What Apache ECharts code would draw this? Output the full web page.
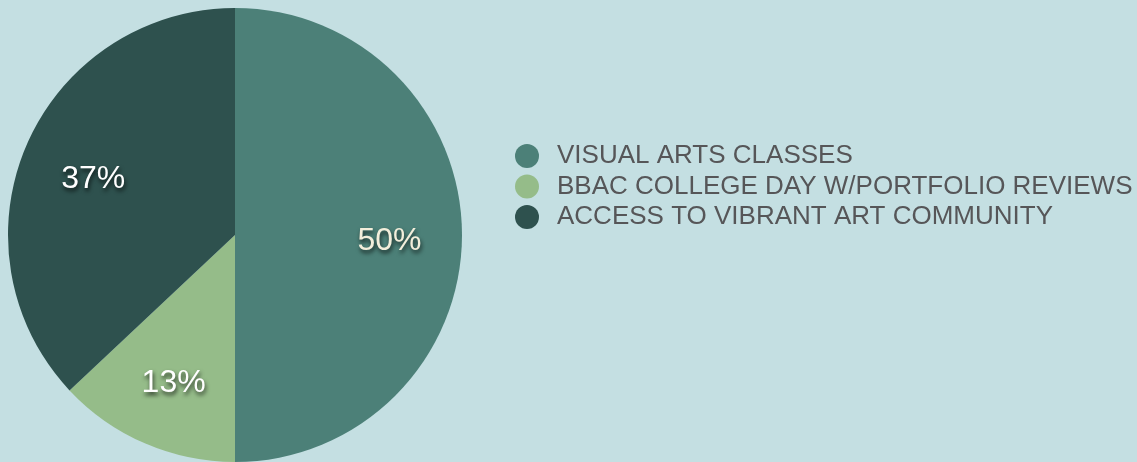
<!DOCTYPE html>
<html>
<head>
<meta charset="utf-8">
<script src="https://cdn.jsdelivr.net/npm/echarts@6/dist/echarts.min.js"></script>
<style>
  html, body { margin: 0; padding: 0; background: #c4dfe2; }
  #chart { width: 1137px; height: 462px; }
</style>
</head>
<body>
<div id="chart"></div>
<script>
// Share of benefits
const categories = [
  'VISUAL ARTS CLASSES',
  'BBAC COLLEGE DAY W/PORTFOLIO REVIEWS',
  'ACCESS TO VIBRANT ART COMMUNITY'
];
const values = [50, 13, 37];
const sliceColors = ['#4c8078', '#95bc89', '#2e514e'];
const labelColors = ['#f2eedb', '#ffffff', '#ffffff'];

const pieData = categories.map((name, i) => ({
  name,
  value: values[i],
  itemStyle: { color: sliceColors[i] }
}));

const labelData = categories.map((name, i) => ({
  name,
  value: values[i],
  label: { color: labelColors[i] }
}));

const chart = echarts.init(document.getElementById('chart'), null, { renderer: 'canvas' });
chart.setOption({
  backgroundColor: '#c4dfe2',
  animation: false,
  legend: {
    orient: 'vertical',
    left: 510,
    top: 138,
    icon: 'circle',
    itemWidth: 24,
    itemHeight: 24,
    itemGap: 4.5,
    data: categories,
    textStyle: {
      color: '#565658',
      fontSize: 26,
      fontFamily: 'Liberation Sans, Arial, sans-serif',
      padding: [0, 0, 0, 13]
    }
  },
  series: [
    {
      type: 'pie',
      center: [235, 235],
      radius: [0, 227],
      startAngle: 90,
      clockwise: true,
      label: { show: false },
      labelLine: { show: false },
      emphasis: { disabled: true },
      data: pieData
    },
    {
      // transparent ring that carries the percentage labels further out
      type: 'pie',
      center: [235, 235],
      radius: [76, 227],
      startAngle: 90,
      clockwise: true,
      silent: true,
      legendHoverLink: false,
      itemStyle: { color: 'rgba(0,0,0,0)' },
      emphasis: { disabled: true },
      labelLine: { show: false },
      labelLayout: { dy: 6 },
      label: {
        show: true,
        position: 'inside',
        formatter: '{c}%',
        fontSize: 32,
        fontFamily: 'Liberation Sans, Arial, sans-serif',
        textShadowColor: 'rgba(0,0,0,0.75)',
        textShadowBlur: 4,
        textShadowOffsetX: 1,
        textShadowOffsetY: 3
      },
      data: labelData
    }
  ]
});
</script>
</body>
</html>
